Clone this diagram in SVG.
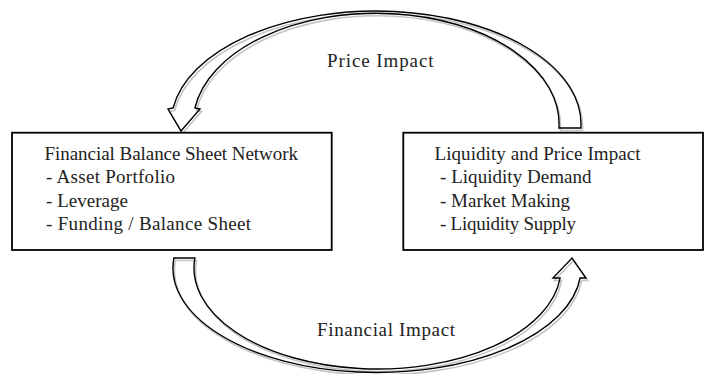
<svg xmlns="http://www.w3.org/2000/svg" width="714" height="374" viewBox="0 0 714 374">
  <style>
    .box { fill: #ffffff; stroke: #000000; stroke-width: 1.8; }
    .txt { font-family: "Liberation Serif", "Times New Roman", serif; font-size: 19px; fill: #222222; }
    .arrow { fill: none; stroke: #000000; stroke-width: 1.4; stroke-linejoin: miter; }
    .shadow { fill: none; stroke: #c4c4c4; stroke-width: 1.6; }
  </style>
  <defs>
    <filter id="soft" x="-5%" y="-5%" width="110%" height="110%">
      <feGaussianBlur stdDeviation="0.5"/>
    </filter>
    <!-- curved block arrows, shared by the shape and its shadow -->
    <path id="arcTop" d="M 558.9,128 L 580.9,128 A 205 113 0 0 0 173.1,108 L 168,109 L 181,131 L 200,109 L 194.9,108 A 183 110.5 0 0 1 558.9,128 Z"/>
    <path id="arcBottom" d="M 173.9,258 L 194.9,258 A 183.5 101 0 0 0 560.1,278 L 553,278 L 572,258 L 586,278 L 580.1,278 A 204 104.5 0 0 1 173.9,258 Z"/>
  </defs>

  <rect width="714" height="374" fill="#ffffff"/>

  <!-- connectors: curved block arrows between the two boxes -->
  <g id="connectors">
    <g id="price-impact">
      <use href="#arcTop" class="shadow" transform="translate(1.5,2.5)" filter="url(#soft)"/>
      <use href="#arcTop" class="arrow"/>
      <text class="txt" x="327" y="66.7" textLength="106.5" lengthAdjust="spacing">Price Impact</text>
    </g>
    <g id="financial-impact">
      <use href="#arcBottom" class="shadow" transform="translate(1.5,2.5)" filter="url(#soft)"/>
      <use href="#arcBottom" class="arrow"/>
      <text class="txt" x="317" y="335.7" textLength="138" lengthAdjust="spacing">Financial Impact</text>
    </g>
  </g>

  <g id="balance-sheet-network">
    <rect class="box" x="12" y="132.7" width="319.7" height="117.3"/>
    <text class="txt" x="44.5" y="159.5" textLength="253.5" lengthAdjust="spacing">Financial Balance Sheet Network</text>
    <text class="txt" x="46" y="183" textLength="129" lengthAdjust="spacing">- Asset Portfolio</text>
    <text class="txt" x="46" y="206.5" textLength="82" lengthAdjust="spacing">- Leverage</text>
    <text class="txt" x="46" y="230" textLength="205" lengthAdjust="spacing">- Funding / Balance Sheet</text>
  </g>

  <g id="liquidity-price-impact">
    <rect class="box" x="403.3" y="132.7" width="299.7" height="117.3"/>
    <text class="txt" x="434.5" y="159.5" textLength="206" lengthAdjust="spacing">Liquidity and Price Impact</text>
    <text class="txt" x="440" y="183" textLength="151.5" lengthAdjust="spacing">- Liquidity Demand</text>
    <text class="txt" x="440" y="206.5" textLength="130" lengthAdjust="spacing">- Market Making</text>
    <text class="txt" x="440" y="230" textLength="136" lengthAdjust="spacing">- Liquidity Supply</text>
  </g>
</svg>
